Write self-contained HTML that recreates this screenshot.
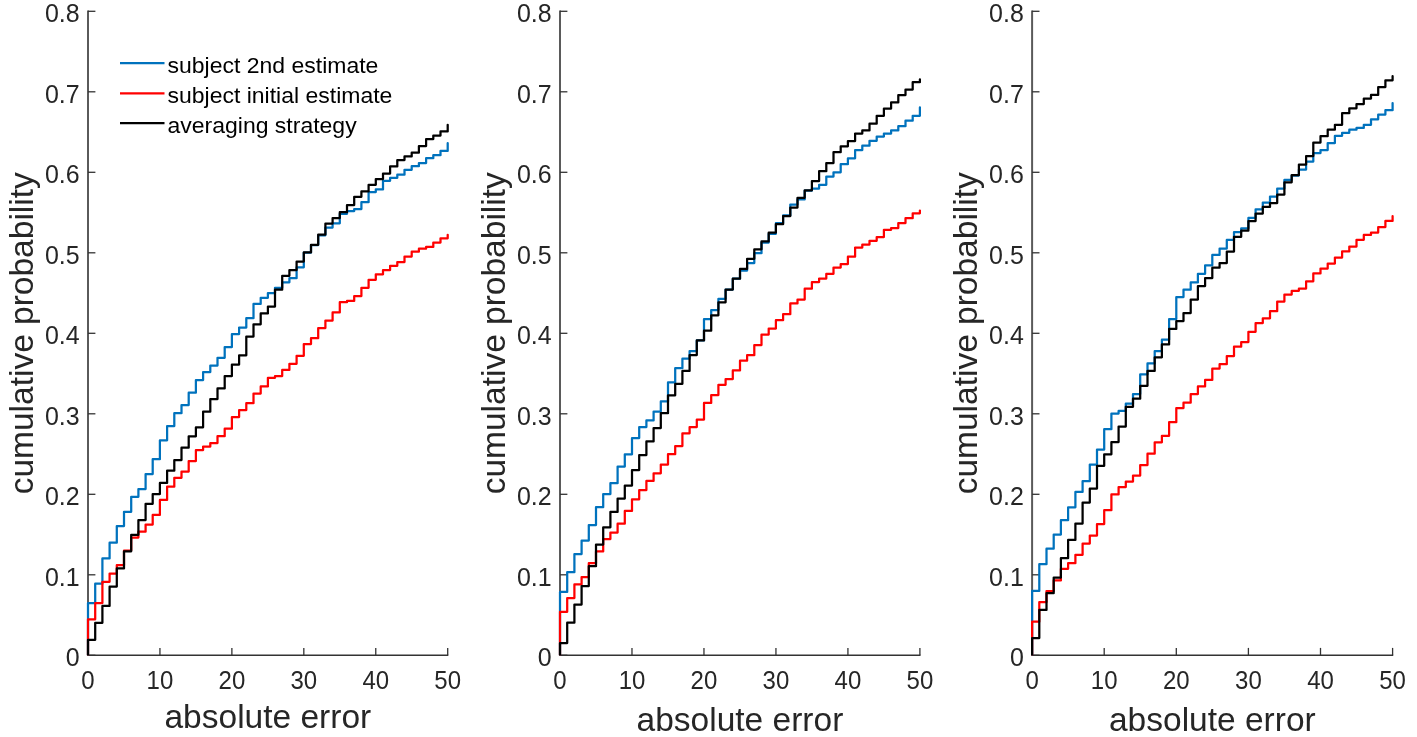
<!DOCTYPE html>
<html><head><meta charset="utf-8"><style>
html,body{margin:0;padding:0;background:#fff;}
svg{display:block;filter:blur(0.4px);}
.t{font-family:"Liberation Sans",sans-serif;font-size:24.5px;fill:#262626;}
.l{font-family:"Liberation Sans",sans-serif;font-size:33.5px;fill:#262626;}
.g{font-family:"Liberation Sans",sans-serif;font-size:23px;fill:#000;}
</style></head><body>
<svg width="1417" height="737" viewBox="0 0 1417 737">
<rect width="1417" height="737" fill="#fff"/>
<line x1="88" y1="10.600000000000001" x2="88" y2="656.0" stroke="#5a5a5a" stroke-width="2"/>
<line x1="88" y1="655.3" x2="448.3" y2="655.3" stroke="#333" stroke-width="1.4"/>
<line x1="88" y1="655.30" x2="95.4" y2="655.30" stroke="#333" stroke-width="1.3"/>
<text transform="translate(79.7,666.00) scale(1.02,1.07)" text-anchor="end" class="t">0</text>
<line x1="88" y1="574.80" x2="95.4" y2="574.80" stroke="#333" stroke-width="1.3"/>
<text transform="translate(79.7,585.50) scale(1.02,1.07)" text-anchor="end" class="t">0.1</text>
<line x1="88" y1="494.30" x2="95.4" y2="494.30" stroke="#333" stroke-width="1.3"/>
<text transform="translate(79.7,505.00) scale(1.02,1.07)" text-anchor="end" class="t">0.2</text>
<line x1="88" y1="413.80" x2="95.4" y2="413.80" stroke="#333" stroke-width="1.3"/>
<text transform="translate(79.7,424.50) scale(1.02,1.07)" text-anchor="end" class="t">0.3</text>
<line x1="88" y1="333.30" x2="95.4" y2="333.30" stroke="#333" stroke-width="1.3"/>
<text transform="translate(79.7,344.00) scale(1.02,1.07)" text-anchor="end" class="t">0.4</text>
<line x1="88" y1="252.80" x2="95.4" y2="252.80" stroke="#333" stroke-width="1.3"/>
<text transform="translate(79.7,263.50) scale(1.02,1.07)" text-anchor="end" class="t">0.5</text>
<line x1="88" y1="172.30" x2="95.4" y2="172.30" stroke="#333" stroke-width="1.3"/>
<text transform="translate(79.7,183.00) scale(1.02,1.07)" text-anchor="end" class="t">0.6</text>
<line x1="88" y1="91.80" x2="95.4" y2="91.80" stroke="#333" stroke-width="1.3"/>
<text transform="translate(79.7,102.50) scale(1.02,1.07)" text-anchor="end" class="t">0.7</text>
<line x1="88" y1="11.30" x2="95.4" y2="11.30" stroke="#333" stroke-width="1.3"/>
<text transform="translate(79.7,22.00) scale(1.02,1.07)" text-anchor="end" class="t">0.8</text>
<line x1="88.00" y1="655.3" x2="88.00" y2="647.9" stroke="#333" stroke-width="1.3"/>
<text transform="translate(88.00,688.6) scale(0.98,1.05)" text-anchor="middle" class="t">0</text>
<line x1="159.94" y1="655.3" x2="159.94" y2="647.9" stroke="#333" stroke-width="1.3"/>
<text transform="translate(159.94,688.6) scale(0.98,1.05)" text-anchor="middle" class="t">10</text>
<line x1="231.88" y1="655.3" x2="231.88" y2="647.9" stroke="#333" stroke-width="1.3"/>
<text transform="translate(231.88,688.6) scale(0.98,1.05)" text-anchor="middle" class="t">20</text>
<line x1="303.82" y1="655.3" x2="303.82" y2="647.9" stroke="#333" stroke-width="1.3"/>
<text transform="translate(303.82,688.6) scale(0.98,1.05)" text-anchor="middle" class="t">30</text>
<line x1="375.76" y1="655.3" x2="375.76" y2="647.9" stroke="#333" stroke-width="1.3"/>
<text transform="translate(375.76,688.6) scale(0.98,1.05)" text-anchor="middle" class="t">40</text>
<line x1="447.70" y1="655.3" x2="447.70" y2="647.9" stroke="#333" stroke-width="1.3"/>
<text transform="translate(447.70,688.6) scale(0.98,1.05)" text-anchor="middle" class="t">50</text>
<text x="267.85" y="728" text-anchor="middle" class="l">absolute error</text>
<text transform="translate(33,333.29999999999995) rotate(-90)" x="0" y="0" text-anchor="middle" class="l">cumulative probability</text>
<clipPath id="cp0"><rect x="82" y="0" width="380" height="655.3"/></clipPath><g clip-path="url(#cp0)">
<path d="M88.00,655.3 L88.00,603.1 H95.2 V583.7 H102.4 V558.4 H109.6 V542.7 H116.8 V526.0 H124.0 V511.8 H131.2 V496.8 H138.4 V489.1 H145.6 V474.1 H152.7 V459.2 H159.9 V440.3 H167.1 V426.1 H174.3 V413.2 H181.5 V405.1 H188.7 V392.7 H195.9 V380.1 H203.1 V372.1 H210.3 V365.5 H217.5 V357.8 H224.7 V347.0 H231.9 V334.1 H239.1 V327.5 H246.3 V318.2 H253.5 V303.9 H260.7 V297.8 H267.9 V293.1 H275.0 V287.8 H282.2 V282.3 H289.4 V278.2 H296.6 V267.3 H303.8 V252.5 H311.0 V245.0 H318.2 V235.3 H325.4 V227.5 H332.6 V223.3 H339.8 V213.8 H347.0 V211.0 H354.2 V209.0 H361.4 V202.2 H368.6 V192.0 H375.8 V189.4 H383.0 V180.8 H390.1 V177.8 H397.3 V174.7 H404.5 V169.8 H411.7 V166.2 H418.9 V163.1 H426.1 V158.2 H433.3 V155.2 H440.5 V150.9 H447.7 V143.2" fill="none" stroke="#0072BD" stroke-width="2.25" stroke-linejoin="round" stroke-linecap="round"/>
<path d="M88.00,655.3 L88.00,619.3 H95.2 V603.1 H102.4 V581.8 H109.6 V573.6 H116.8 V565.2 H124.0 V550.5 H131.2 V537.5 H138.4 V531.7 H145.6 V524.5 H152.7 V514.9 H159.9 V499.9 H167.1 V486.7 H174.3 V477.8 H181.5 V471.5 H188.7 V461.0 H195.9 V450.0 H203.1 V446.6 H210.3 V443.0 H217.5 V436.2 H224.7 V428.7 H231.9 V417.1 H239.1 V410.0 H246.3 V403.2 H253.5 V393.6 H260.7 V386.4 H267.9 V377.8 H275.0 V376.0 H282.2 V369.9 H289.4 V363.8 H296.6 V355.8 H303.8 V344.0 H311.0 V338.2 H318.2 V328.0 H325.4 V320.6 H332.6 V312.4 H339.8 V302.2 H347.0 V300.9 H354.2 V296.0 H361.4 V287.8 H368.6 V279.8 H375.8 V274.3 H383.0 V270.1 H390.1 V265.8 H397.3 V262.1 H404.5 V256.6 H411.7 V251.7 H418.9 V248.7 H426.1 V246.9 H433.3 V242.6 H440.5 V238.3 H447.7 V234.8" fill="none" stroke="#FF0000" stroke-width="2.25" stroke-linejoin="round" stroke-linecap="round"/>
<path d="M88.00,655.3 L88.00,639.8 H95.2 V622.8 H102.4 V605.9 H109.6 V586.5 H116.8 V568.4 H124.0 V551.3 H131.2 V534.8 H138.4 V520.0 H145.6 V503.8 H152.7 V494.0 H159.9 V482.9 H167.1 V470.7 H174.3 V460.0 H181.5 V447.7 H188.7 V436.3 H195.9 V427.3 H203.1 V411.7 H210.3 V399.1 H217.5 V388.4 H224.7 V376.1 H231.9 V364.6 H239.1 V355.3 H246.3 V336.6 H253.5 V324.3 H260.7 V313.4 H267.9 V306.6 H275.0 V289.7 H282.2 V275.8 H289.4 V270.0 H296.6 V261.5 H303.8 V252.4 H311.0 V244.8 H318.2 V234.5 H325.4 V223.5 H332.6 V218.0 H339.8 V212.2 H347.0 V205.0 H354.2 V196.8 H361.4 V191.4 H368.6 V184.8 H375.8 V179.0 H383.0 V173.5 H390.1 V166.4 H397.3 V160.1 H404.5 V156.4 H411.7 V152.7 H418.9 V146.0 H426.1 V139.1 H433.3 V135.6 H440.5 V131.4 H447.7 V124.8" fill="none" stroke="#000000" stroke-width="2.25" stroke-linejoin="round" stroke-linecap="round"/>
</g>
<line x1="560" y1="10.600000000000001" x2="560" y2="656.0" stroke="#5a5a5a" stroke-width="2"/>
<line x1="560" y1="655.3" x2="920.5000000000001" y2="655.3" stroke="#333" stroke-width="1.4"/>
<line x1="560" y1="655.30" x2="567.4" y2="655.30" stroke="#333" stroke-width="1.3"/>
<text transform="translate(551.7,666.00) scale(1.02,1.07)" text-anchor="end" class="t">0</text>
<line x1="560" y1="574.80" x2="567.4" y2="574.80" stroke="#333" stroke-width="1.3"/>
<text transform="translate(551.7,585.50) scale(1.02,1.07)" text-anchor="end" class="t">0.1</text>
<line x1="560" y1="494.30" x2="567.4" y2="494.30" stroke="#333" stroke-width="1.3"/>
<text transform="translate(551.7,505.00) scale(1.02,1.07)" text-anchor="end" class="t">0.2</text>
<line x1="560" y1="413.80" x2="567.4" y2="413.80" stroke="#333" stroke-width="1.3"/>
<text transform="translate(551.7,424.50) scale(1.02,1.07)" text-anchor="end" class="t">0.3</text>
<line x1="560" y1="333.30" x2="567.4" y2="333.30" stroke="#333" stroke-width="1.3"/>
<text transform="translate(551.7,344.00) scale(1.02,1.07)" text-anchor="end" class="t">0.4</text>
<line x1="560" y1="252.80" x2="567.4" y2="252.80" stroke="#333" stroke-width="1.3"/>
<text transform="translate(551.7,263.50) scale(1.02,1.07)" text-anchor="end" class="t">0.5</text>
<line x1="560" y1="172.30" x2="567.4" y2="172.30" stroke="#333" stroke-width="1.3"/>
<text transform="translate(551.7,183.00) scale(1.02,1.07)" text-anchor="end" class="t">0.6</text>
<line x1="560" y1="91.80" x2="567.4" y2="91.80" stroke="#333" stroke-width="1.3"/>
<text transform="translate(551.7,102.50) scale(1.02,1.07)" text-anchor="end" class="t">0.7</text>
<line x1="560" y1="11.30" x2="567.4" y2="11.30" stroke="#333" stroke-width="1.3"/>
<text transform="translate(551.7,22.00) scale(1.02,1.07)" text-anchor="end" class="t">0.8</text>
<line x1="560.00" y1="655.3" x2="560.00" y2="647.9" stroke="#333" stroke-width="1.3"/>
<text transform="translate(560.00,688.6) scale(0.98,1.05)" text-anchor="middle" class="t">0</text>
<line x1="631.98" y1="655.3" x2="631.98" y2="647.9" stroke="#333" stroke-width="1.3"/>
<text transform="translate(631.98,688.6) scale(0.98,1.05)" text-anchor="middle" class="t">10</text>
<line x1="703.96" y1="655.3" x2="703.96" y2="647.9" stroke="#333" stroke-width="1.3"/>
<text transform="translate(703.96,688.6) scale(0.98,1.05)" text-anchor="middle" class="t">20</text>
<line x1="775.94" y1="655.3" x2="775.94" y2="647.9" stroke="#333" stroke-width="1.3"/>
<text transform="translate(775.94,688.6) scale(0.98,1.05)" text-anchor="middle" class="t">30</text>
<line x1="847.92" y1="655.3" x2="847.92" y2="647.9" stroke="#333" stroke-width="1.3"/>
<text transform="translate(847.92,688.6) scale(0.98,1.05)" text-anchor="middle" class="t">40</text>
<line x1="919.90" y1="655.3" x2="919.90" y2="647.9" stroke="#333" stroke-width="1.3"/>
<text transform="translate(919.90,688.6) scale(0.98,1.05)" text-anchor="middle" class="t">50</text>
<text x="739.95" y="731" text-anchor="middle" class="l">absolute error</text>
<text transform="translate(505,333.29999999999995) rotate(-90)" x="0" y="0" text-anchor="middle" class="l">cumulative probability</text>
<clipPath id="cp1"><rect x="554" y="0" width="380" height="655.3"/></clipPath><g clip-path="url(#cp1)">
<path d="M560.00,655.3 L560.00,591.9 H567.2 V572.2 H574.4 V554.1 H581.6 V540.6 H588.8 V525.0 H596.0 V507.2 H603.2 V494.1 H610.4 V483.2 H617.6 V466.5 H624.8 V454.3 H632.0 V438.0 H639.2 V427.1 H646.4 V420.4 H653.6 V411.5 H660.8 V401.4 H668.0 V382.4 H675.2 V368.2 H682.4 V358.7 H689.6 V351.0 H696.8 V340.4 H704.0 V319.0 H711.2 V310.0 H718.4 V298.8 H725.6 V289.5 H732.8 V278.7 H740.0 V270.6 H747.1 V263.0 H754.3 V253.2 H761.5 V242.6 H768.7 V233.8 H775.9 V223.2 H783.1 V215.4 H790.3 V204.5 H797.5 V199.4 H804.7 V190.7 H811.9 V188.6 H819.1 V184.8 H826.3 V176.6 H833.5 V172.3 H840.7 V164.2 H847.9 V158.3 H855.1 V150.0 H862.3 V145.7 H869.5 V140.8 H876.7 V136.5 H883.9 V133.5 H891.1 V130.4 H898.3 V126.2 H905.5 V120.7 H912.7 V115.8 H919.9 V107.4" fill="none" stroke="#0072BD" stroke-width="2.25" stroke-linejoin="round" stroke-linecap="round"/>
<path d="M560.00,655.3 L560.00,611.8 H567.2 V598.0 H574.4 V584.4 H581.6 V577.0 H588.8 V563.2 H596.0 V551.4 H603.2 V539.0 H610.4 V532.6 H617.6 V523.7 H624.8 V510.9 H632.0 V499.3 H639.2 V490.1 H646.4 V480.9 H653.6 V473.3 H660.8 V464.6 H668.0 V454.2 H675.2 V446.1 H682.4 V433.3 H689.6 V427.1 H696.8 V419.5 H704.0 V402.9 H711.2 V395.0 H718.4 V384.8 H725.6 V379.1 H732.8 V370.4 H740.0 V360.7 H747.1 V355.2 H754.3 V345.0 H761.5 V334.6 H768.7 V328.5 H775.9 V320.2 H783.1 V314.2 H790.3 V303.4 H797.5 V299.6 H804.7 V288.7 H811.9 V282.0 H819.1 V278.5 H826.3 V273.8 H833.5 V267.6 H840.7 V264.0 H847.9 V256.7 H855.1 V247.5 H862.3 V244.5 H869.5 V240.8 H876.7 V237.1 H883.9 V229.8 H891.1 V228.0 H898.3 V223.1 H905.5 V218.2 H912.7 V213.3 H919.9 V210.5" fill="none" stroke="#FF0000" stroke-width="2.25" stroke-linejoin="round" stroke-linecap="round"/>
<path d="M560.00,655.3 L560.00,643.0 H567.2 V622.7 H574.4 V604.5 H581.6 V586.0 H588.8 V566.2 H596.0 V544.6 H603.2 V527.3 H610.4 V511.9 H617.6 V498.5 H624.8 V485.6 H632.0 V470.0 H639.2 V455.0 H646.4 V441.4 H653.6 V428.0 H660.8 V413.2 H668.0 V395.3 H675.2 V383.8 H682.4 V370.9 H689.6 V355.0 H696.8 V340.4 H704.0 V330.7 H711.2 V315.3 H718.4 V302.3 H725.6 V289.6 H732.8 V278.7 H740.0 V268.9 H747.1 V258.8 H754.3 V249.3 H761.5 V241.4 H768.7 V232.6 H775.9 V224.2 H783.1 V216.1 H790.3 V207.5 H797.5 V197.8 H804.7 V190.3 H811.9 V181.0 H819.1 V171.2 H826.3 V163.1 H833.5 V152.2 H840.7 V146.3 H847.9 V141.0 H855.1 V133.5 H862.3 V130.4 H869.5 V123.7 H876.7 V115.8 H883.9 V108.5 H891.1 V102.4 H898.3 V95.0 H905.5 V89.5 H912.7 V82.2 H919.9 V79.3" fill="none" stroke="#000000" stroke-width="2.25" stroke-linejoin="round" stroke-linecap="round"/>
</g>
<line x1="1032.1" y1="10.600000000000001" x2="1032.1" y2="656.0" stroke="#5a5a5a" stroke-width="2"/>
<line x1="1032.1" y1="655.3" x2="1393.1999999999998" y2="655.3" stroke="#333" stroke-width="1.4"/>
<line x1="1032.1" y1="655.30" x2="1039.5" y2="655.30" stroke="#333" stroke-width="1.3"/>
<text transform="translate(1023.8,666.00) scale(1.02,1.07)" text-anchor="end" class="t">0</text>
<line x1="1032.1" y1="574.80" x2="1039.5" y2="574.80" stroke="#333" stroke-width="1.3"/>
<text transform="translate(1023.8,585.50) scale(1.02,1.07)" text-anchor="end" class="t">0.1</text>
<line x1="1032.1" y1="494.30" x2="1039.5" y2="494.30" stroke="#333" stroke-width="1.3"/>
<text transform="translate(1023.8,505.00) scale(1.02,1.07)" text-anchor="end" class="t">0.2</text>
<line x1="1032.1" y1="413.80" x2="1039.5" y2="413.80" stroke="#333" stroke-width="1.3"/>
<text transform="translate(1023.8,424.50) scale(1.02,1.07)" text-anchor="end" class="t">0.3</text>
<line x1="1032.1" y1="333.30" x2="1039.5" y2="333.30" stroke="#333" stroke-width="1.3"/>
<text transform="translate(1023.8,344.00) scale(1.02,1.07)" text-anchor="end" class="t">0.4</text>
<line x1="1032.1" y1="252.80" x2="1039.5" y2="252.80" stroke="#333" stroke-width="1.3"/>
<text transform="translate(1023.8,263.50) scale(1.02,1.07)" text-anchor="end" class="t">0.5</text>
<line x1="1032.1" y1="172.30" x2="1039.5" y2="172.30" stroke="#333" stroke-width="1.3"/>
<text transform="translate(1023.8,183.00) scale(1.02,1.07)" text-anchor="end" class="t">0.6</text>
<line x1="1032.1" y1="91.80" x2="1039.5" y2="91.80" stroke="#333" stroke-width="1.3"/>
<text transform="translate(1023.8,102.50) scale(1.02,1.07)" text-anchor="end" class="t">0.7</text>
<line x1="1032.1" y1="11.30" x2="1039.5" y2="11.30" stroke="#333" stroke-width="1.3"/>
<text transform="translate(1023.8,22.00) scale(1.02,1.07)" text-anchor="end" class="t">0.8</text>
<line x1="1032.10" y1="655.3" x2="1032.10" y2="647.9" stroke="#333" stroke-width="1.3"/>
<text transform="translate(1032.10,688.6) scale(0.98,1.05)" text-anchor="middle" class="t">0</text>
<line x1="1104.20" y1="655.3" x2="1104.20" y2="647.9" stroke="#333" stroke-width="1.3"/>
<text transform="translate(1104.20,688.6) scale(0.98,1.05)" text-anchor="middle" class="t">10</text>
<line x1="1176.30" y1="655.3" x2="1176.30" y2="647.9" stroke="#333" stroke-width="1.3"/>
<text transform="translate(1176.30,688.6) scale(0.98,1.05)" text-anchor="middle" class="t">20</text>
<line x1="1248.40" y1="655.3" x2="1248.40" y2="647.9" stroke="#333" stroke-width="1.3"/>
<text transform="translate(1248.40,688.6) scale(0.98,1.05)" text-anchor="middle" class="t">30</text>
<line x1="1320.50" y1="655.3" x2="1320.50" y2="647.9" stroke="#333" stroke-width="1.3"/>
<text transform="translate(1320.50,688.6) scale(0.98,1.05)" text-anchor="middle" class="t">40</text>
<line x1="1392.60" y1="655.3" x2="1392.60" y2="647.9" stroke="#333" stroke-width="1.3"/>
<text transform="translate(1392.60,688.6) scale(0.98,1.05)" text-anchor="middle" class="t">50</text>
<text x="1212.35" y="731" text-anchor="middle" class="l">absolute error</text>
<text transform="translate(977.0999999999999,333.29999999999995) rotate(-90)" x="0" y="0" text-anchor="middle" class="l">cumulative probability</text>
<clipPath id="cp2"><rect x="1026.1" y="0" width="380" height="655.3"/></clipPath><g clip-path="url(#cp2)">
<path d="M1032.10,655.3 L1032.10,590.9 H1039.3 V564.2 H1046.5 V548.7 H1053.7 V534.5 H1060.9 V520.2 H1068.1 V507.3 H1075.4 V491.9 H1082.6 V481.2 H1089.8 V464.5 H1097.0 V449.5 H1104.2 V429.2 H1111.4 V413.6 H1118.6 V410.9 H1125.8 V403.7 H1133.0 V394.0 H1140.2 V374.3 H1147.5 V363.4 H1154.7 V351.2 H1161.9 V339.7 H1169.1 V319.0 H1176.3 V297.1 H1183.5 V289.7 H1190.7 V282.4 H1197.9 V273.8 H1205.1 V265.3 H1212.3 V254.9 H1219.6 V248.5 H1226.8 V239.9 H1234.0 V232.0 H1241.2 V228.3 H1248.4 V217.9 H1255.6 V209.3 H1262.8 V202.6 H1270.0 V196.5 H1277.2 V188.5 H1284.4 V179.9 H1291.7 V175.5 H1298.9 V169.5 H1306.1 V161.6 H1313.3 V153.0 H1320.5 V150.0 H1327.7 V143.1 H1334.9 V135.8 H1342.1 V132.8 H1349.3 V129.7 H1356.5 V127.9 H1363.8 V124.8 H1371.0 V119.3 H1378.2 V114.5 H1385.4 V110.2 H1392.6 V103.0" fill="none" stroke="#0072BD" stroke-width="2.25" stroke-linejoin="round" stroke-linecap="round"/>
<path d="M1032.10,655.3 L1032.10,621.7 H1039.3 V602.1 H1046.5 V591.0 H1053.7 V580.4 H1060.9 V568.8 H1068.1 V563.2 H1075.4 V554.8 H1082.6 V543.6 H1089.8 V535.5 H1097.0 V524.0 H1104.2 V510.2 H1111.4 V494.4 H1118.6 V487.1 H1125.8 V481.6 H1133.0 V475.5 H1140.2 V465.1 H1147.5 V453.7 H1154.7 V442.3 H1161.9 V435.8 H1169.1 V422.2 H1176.3 V408.1 H1183.5 V402.7 H1190.7 V394.0 H1197.9 V386.4 H1205.1 V379.9 H1212.3 V368.5 H1219.6 V364.2 H1226.8 V356.0 H1234.0 V346.7 H1241.2 V342.1 H1248.4 V331.8 H1255.6 V323.1 H1262.8 V318.3 H1270.0 V311.2 H1277.2 V301.5 H1284.4 V294.5 H1291.7 V290.8 H1298.9 V288.6 H1306.1 V281.3 H1313.3 V273.4 H1320.5 V268.5 H1327.7 V263.6 H1334.9 V257.5 H1342.1 V251.4 H1349.3 V246.5 H1356.5 V239.8 H1363.8 V234.9 H1371.0 V232.5 H1378.2 V227.0 H1385.4 V220.9 H1392.6 V216.2" fill="none" stroke="#FF0000" stroke-width="2.25" stroke-linejoin="round" stroke-linecap="round"/>
<path d="M1032.10,655.3 L1032.10,638.0 H1039.3 V609.9 H1046.5 V593.2 H1053.7 V577.6 H1060.9 V558.2 H1068.1 V539.9 H1075.4 V523.6 H1082.6 V502.6 H1089.8 V488.6 H1097.0 V465.8 H1104.2 V454.3 H1111.4 V442.1 H1118.6 V426.5 H1125.8 V406.8 H1133.0 V398.7 H1140.2 V385.8 H1147.5 V370.9 H1154.7 V357.3 H1161.9 V344.4 H1169.1 V328.9 H1176.3 V321.0 H1183.5 V313.0 H1190.7 V299.5 H1197.9 V286.1 H1205.1 V278.1 H1212.3 V267.7 H1219.6 V263.0 H1226.8 V251.5 H1234.0 V236.8 H1241.2 V230.7 H1248.4 V221.0 H1255.6 V213.6 H1262.8 V206.9 H1270.0 V203.0 H1277.2 V194.6 H1284.4 V182.3 H1291.7 V175.0 H1298.9 V164.6 H1306.1 V156.1 H1313.3 V142.6 H1320.5 V136.2 H1327.7 V129.7 H1334.9 V124.8 H1342.1 V113.2 H1349.3 V108.3 H1356.5 V104.1 H1363.8 V98.6 H1371.0 V94.9 H1378.2 V87.0 H1385.4 V80.3 H1392.6 V76.2" fill="none" stroke="#000000" stroke-width="2.25" stroke-linejoin="round" stroke-linecap="round"/>
</g>
<line x1="120" y1="63.1" x2="164.5" y2="63.1" stroke="#0072BD" stroke-width="2.25"/>
<text transform="translate(167.5,72.9) scale(1,0.95)" class="g">subject 2nd estimate</text>
<line x1="120" y1="93.3" x2="164.5" y2="93.3" stroke="#FF0000" stroke-width="2.25"/>
<text transform="translate(167.5,103.1) scale(1,0.95)" class="g">subject initial estimate</text>
<line x1="120" y1="123.2" x2="164.5" y2="123.2" stroke="#000000" stroke-width="2.25"/>
<text transform="translate(167.5,133.0) scale(1,0.95)" class="g">averaging strategy</text>
</svg>
</body></html>
